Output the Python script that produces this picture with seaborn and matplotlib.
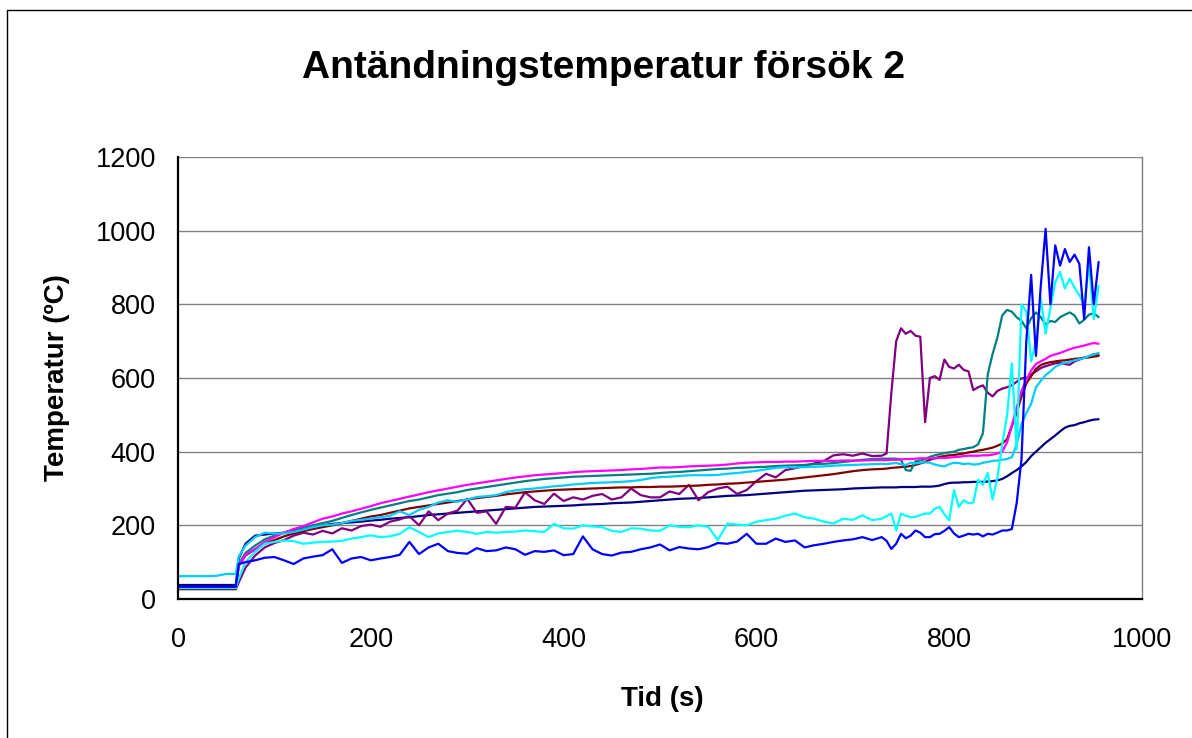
import matplotlib
matplotlib.use("Agg")
import matplotlib.pyplot as plt
import seaborn as sns
import pandas as pd
from matplotlib.lines import Line2D

# ---------------- data ----------------
TIME = [0, 10, 20, 30, 40, 50, 60, 63,
        70, 80, 90, 100, 110, 120, 130, 140, 150, 160,
        170, 180, 190, 200, 210, 220, 230, 240, 250, 260,
        270, 280, 290, 300, 310, 320, 330, 340, 350, 360,
        370, 380, 390, 400, 410, 420, 430, 440, 450, 460,
        470, 480, 490, 500, 510, 520, 530, 540, 550, 560,
        570, 580, 590, 600, 610, 620, 630, 640, 650, 660,
        670, 680, 690, 700, 710, 720,
        730, 735, 740, 745, 750, 755, 760, 765, 770, 775,
        780, 785, 790, 795, 800, 805, 810, 815, 820, 825,
        830, 835, 840, 845, 850, 855, 860, 865, 870, 875,
        880, 885, 890, 895, 900, 905, 910, 915, 920, 925,
        930, 935, 940, 945, 950, 955]

NAVY = [38, 38, 38, 38, 38, 38, 38, 110,
        150, 172, 175, 178, 180, 184, 188, 196, 200, 204,
        206, 208, 210, 213, 215, 218, 220, 222, 225, 228,
        230, 232, 234, 236, 238, 240, 242, 244, 246, 248,
        250, 251, 252, 253, 254, 256, 257, 258, 260, 261,
        262, 264, 266, 268, 270, 272, 273, 274, 276, 278,
        280, 281, 282, 284, 286, 288, 290, 292, 294, 295,
        296, 297, 298, 300, 301, 302,
        303, 303, 303, 303, 304, 304, 304, 304, 305, 305,
        305, 306, 308, 312, 315, 316, 316, 317, 317, 318,
        318, 318, 319, 320, 322, 326, 333, 342, 350, 360,
        372, 388, 400, 412, 424, 434, 444, 455, 465, 470,
        472, 477, 480, 484, 487, 488]

PURPLE = [27, 27, 27, 27, 27, 27, 27, 45,
          85, 118, 140, 152, 160, 172, 180, 175, 185, 178,
          192, 186, 198, 202, 196, 210, 216, 225, 200, 238,
          214, 232, 240, 272, 234, 238, 204, 250, 248, 290,
          268, 258, 286, 266, 276, 270, 280, 285, 270, 276,
          300, 282, 276, 276, 292, 285, 310, 268, 290, 300,
          305, 285, 296, 320, 340, 330, 350, 355, 362, 368,
          375, 390, 393, 389, 395, 388,
          389, 395, 560, 700, 735, 720, 728, 715, 712, 480,
          600, 605, 595, 650, 630, 626, 636, 622, 618, 567,
          575, 580, 560, 550, 565, 571, 575, 580, 590, 599,
          600, 609, 618, 627, 632, 636, 640, 641, 638, 636,
          645, 650, 655, 658, 665, 662]

MAROON = [27, 27, 27, 27, 27, 27, 27, 90,
          118, 135, 150, 160, 170, 178, 184, 190, 195, 200,
          206, 212, 218, 224, 228, 234, 240, 246, 250, 254,
          258, 262, 266, 270, 274, 277, 280, 284, 287, 290,
          292, 294, 296, 297, 298, 299, 300, 301, 302, 303,
          303, 304, 304, 305, 305, 306, 307, 308, 310, 311,
          313, 314, 316, 318, 320, 322, 324, 327, 330, 333,
          336, 339, 343, 347, 350, 352,
          353, 354, 356, 357, 358, 359, 361, 364, 368, 372,
          378, 382, 386, 388, 390, 391, 393, 395, 398, 400,
          403, 405, 408, 411, 416, 422, 434, 470, 505, 550,
          585, 605, 625, 635, 640, 643, 645, 647, 648, 650,
          652, 653, 655, 656, 658, 660]

TEAL = [30, 30, 30, 30, 30, 30, 30, 95,
        125, 145, 162, 172, 180, 188, 194, 200, 206, 212,
        220, 228, 235, 242, 248, 254, 260, 266, 270, 276,
        282, 286, 290, 296, 300, 304, 308, 312, 316, 320,
        323, 326, 328, 330, 332, 333, 334, 335, 336, 337,
        338, 339, 340, 342, 344, 345, 347, 349, 351, 353,
        354, 356, 357, 358, 359, 361, 362, 363, 364, 366,
        367, 369, 372, 375, 378, 380,
        381, 381, 381, 381, 378, 350, 348, 374, 376, 380,
        386, 390, 393, 396, 398, 400, 405, 407, 410, 412,
        420, 450, 610, 665, 710, 770, 785, 780, 765, 755,
        735, 762, 778, 765, 745, 755, 752, 765, 772, 778,
        770, 748, 758, 772, 776, 765]

MAGENTA = [30, 30, 30, 30, 30, 30, 30, 90,
           120, 135, 155, 168, 180, 190, 198, 208, 218, 224,
           232, 238, 245, 252, 260, 266, 272, 278, 284, 290,
           295, 300, 305, 310, 314, 318, 322, 326, 330, 333,
           336, 338, 340, 342, 344, 346, 347, 348, 349, 350,
           352, 353, 355, 357, 357, 358, 360, 361, 362, 363,
           365, 368, 370, 371, 372, 372, 373, 373, 374, 375,
           375, 375, 376, 376, 376, 377,
           377, 377, 378, 378, 379, 380, 380, 381, 382, 382,
           382, 382, 383, 383, 384, 385, 386, 388, 389, 389,
           389, 390, 390, 392, 395, 400, 425, 470, 520, 565,
           595, 620, 638, 645, 652, 660, 664, 668, 673, 678,
           682, 685, 688, 692, 695, 693]

SKYBLUE = [62, 62, 62, 62, 63, 68, 68, 115,
           145, 168, 180, 178, 178, 182, 188, 195, 200, 202,
           206, 212, 215, 218, 222, 226, 238, 228, 242, 250,
           262, 268, 264, 270, 277, 279, 282, 290, 295, 298,
           300, 303, 306, 308, 311, 313, 315, 316, 317, 318,
           320, 323, 328, 331, 332, 334, 336, 336, 336, 337,
           340, 342, 345, 348, 352, 356, 358, 357, 358, 359,
           360, 362, 363, 364, 365, 366,
           367, 366, 368, 369, 366, 364, 370, 368, 370, 371,
           370, 365, 362, 360, 366, 370, 369, 366, 368, 365,
           366, 370, 372, 375, 376, 378, 380, 385, 420, 475,
           505, 530, 575, 592, 608, 618, 630, 637, 641, 644,
           648, 651, 654, 660, 664, 668]

AQUA = [30, 30, 30, 30, 30, 30, 30, 55,
        100, 128, 150, 155, 159, 157, 150, 153, 155, 156,
        158, 164, 168, 173, 168, 170, 177, 195, 182, 168,
        178, 182, 185, 182, 177, 182, 180, 182, 183, 186,
        184, 182, 204, 192, 191, 200, 197, 195, 185, 182,
        192, 191, 186, 185, 200, 196, 195, 200, 196, 160,
        205, 202, 200, 210, 214, 218, 226, 232, 222, 218,
        210, 205, 218, 215, 227, 214,
        218, 225, 232, 186, 232, 226, 222, 223, 228, 232,
        232, 245, 250, 230, 214, 296, 250, 268, 260, 262,
        324, 310, 342, 270, 330, 420, 498, 640, 406, 800,
        780, 645, 700, 816, 720, 790, 860, 888, 843, 870,
        845, 825, 800, 910, 760, 850]

BLUE = [33, 33, 33, 33, 33, 33, 33, 95,
        100, 105, 112, 114, 105, 95, 110, 115, 119, 135,
        98, 110, 114, 105, 110, 114, 120, 155, 122, 140,
        150, 130, 125, 123, 138, 130, 132, 140, 135, 120,
        130, 128, 132, 119, 122, 170, 135, 122, 118, 126,
        128, 135, 140, 148, 132, 141, 137, 135, 141, 152,
        150, 156, 177, 150, 150, 164, 155, 159, 140, 146,
        150, 155, 159, 162, 168, 160,
        168, 158, 136, 150, 177, 165, 172, 186, 180, 168,
        168, 176, 177, 185, 195, 178, 168, 172, 177, 175,
        177, 170, 177, 175, 180, 186, 186, 190, 260, 380,
        700, 880, 660, 850, 1005, 800, 960, 905, 950, 915,
        935, 910, 760, 955, 800, 915]

SERIES = {
    "Navy": NAVY,
    "Purple": PURPLE,
    "Maroon": MAROON,
    "Teal": TEAL,
    "Magenta": MAGENTA,
    "Skyblue": SKYBLUE,
    "Aqua": AQUA,
    "Blue": BLUE,
}
COLORS = {
    "Navy": "#000080",
    "Purple": "#800080",
    "Maroon": "#800000",
    "Teal": "#008080",
    "Magenta": "#FF00FF",
    "Skyblue": "#00CCFF",
    "Aqua": "#00FFFF",
    "Blue": "#0000FF",
}
X_TICKS = [0, 200, 400, 600, 800, 1000]
Y_TICKS = [0, 200, 400, 600, 800, 1000, 1200]
TITLE = "Antändningstemperatur försök 2"
XLABEL = "Tid (s)"
YLABEL = "Temperatur (ºC)"

# ---------------- plotting ----------------
sns.set_style("white")
plt.rcParams['font.family'] = ['Liberation Sans', 'DejaVu Sans']
plt.rcParams['text.color'] = 'black'

W, H = 1192, 738
fig = plt.figure(figsize=(W / 100, H / 100), dpi=100)
fig.patch.set_facecolor("white")
ax = fig.add_axes([178 / W, 1 - 599 / H, 964 / W, 442 / H])

frames = [pd.DataFrame({"Tid": TIME, "Temp": vals, "serie": name})
          for name, vals in SERIES.items()]
df = pd.concat(frames, ignore_index=True)

sns.lineplot(data=df, x="Tid", y="Temp", hue="serie",
             hue_order=list(SERIES.keys()), palette=COLORS,
             estimator=None, sort=False, linewidth=1.6,
             legend=False, ax=ax)

ax.set_xlim(0, 1000)
ax.set_ylim(0, 1200)
ax.set_xticks(X_TICKS)
ax.set_yticks(Y_TICKS)
ax.set_xlabel("")
ax.set_ylabel("")
ax.yaxis.grid(True, color="#808080", linewidth=1.0)
ax.xaxis.grid(False)
ax.set_axisbelow(True)

for side in ["left", "bottom"]:
    ax.spines[side].set_color("black")
    ax.spines[side].set_linewidth(1.6)
ax.spines["top"].set_visible(False)
ax.spines["right"].set_color("#808080")
ax.spines["right"].set_linewidth(1.0)

ax.tick_params(axis="both", direction="out", length=6, width=1,
               color="#555555", labelsize=19.5, labelcolor="black")
ax.tick_params(axis="y", pad=10)
ax.tick_params(axis="x", pad=14)

fig.text(603 / W, 1 - 78 / H, TITLE, ha="center", va="baseline",
         fontsize=28, fontweight="bold", color="black")
fig.text(662 / W, 1 - 706 / H, XLABEL, ha="center", va="baseline",
         fontsize=20, fontweight="bold", color="black")
fig.text(57 / W, 1 - 378 / H, YLABEL, ha="center", va="center",
         rotation=90, fontsize=20, fontweight="bold", color="black")

# chart-area border
fig.add_artist(Line2D([7.5 / W, 7.5 / W], [0, 1 - 10 / H], transform=fig.transFigure,
                      color="black", linewidth=1))
fig.add_artist(Line2D([7.5 / W, 1], [1 - 10 / H, 1 - 10 / H], transform=fig.transFigure,
                      color="black", linewidth=1))

fig.savefig("out.png", dpi=100, facecolor="white")
